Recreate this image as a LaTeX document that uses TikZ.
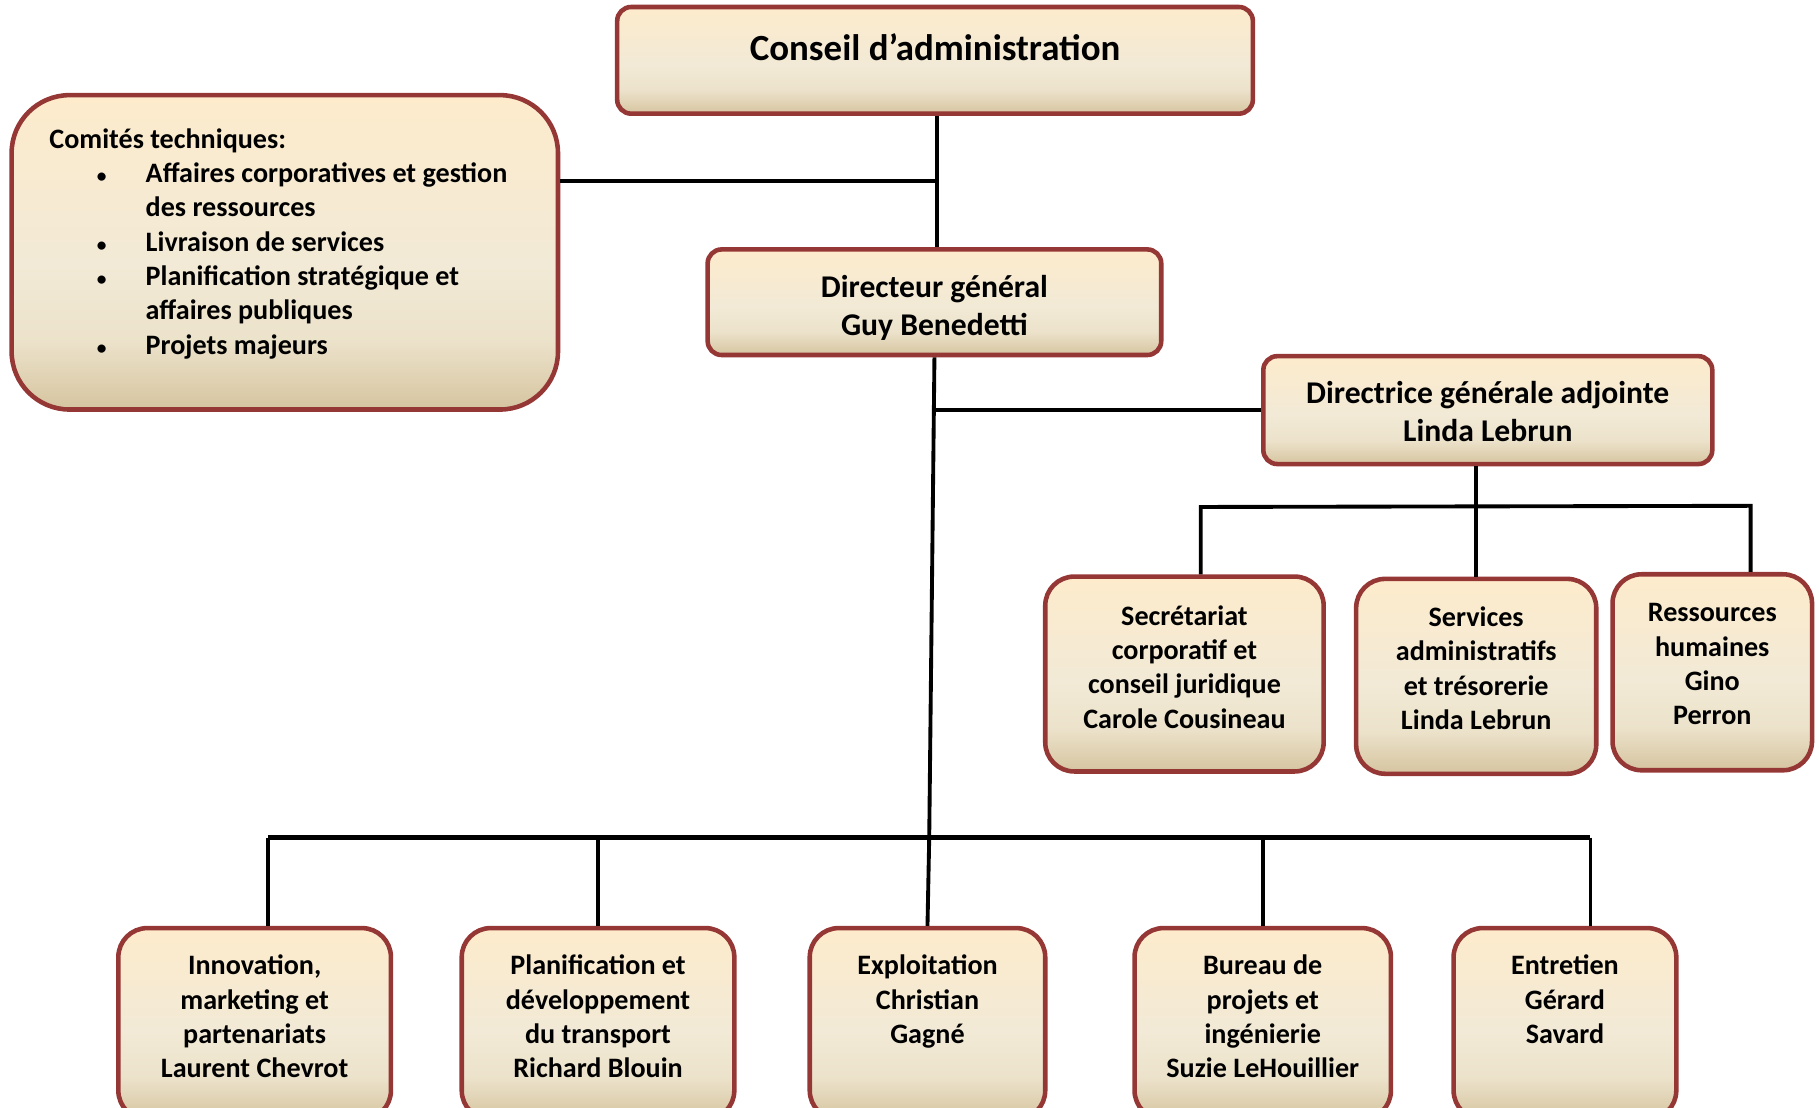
\documentclass[tikz,border=0pt]{standalone}
\usepackage{fontspec}
\setmainfont{Carlito}
\usepackage{tikz}
\usetikzlibrary{positioning}

\definecolor{boxedge}{HTML}{953735}
\definecolor{creamtop}{HTML}{FDEBCC}
\definecolor{creammid}{HTML}{F2EAD6}
\definecolor{tanbot}{HTML}{D5C49F}

\pgfdeclareverticalshading{boxfill}{100bp}{color(0bp)=(tanbot); color(25bp)=(tanbot); color(36bp)=(creammid!80!tanbot); color(48bp)=(creammid); color(75bp)=(creamtop); color(100bp)=(creamtop)}

\newcommand{\puce}{\makebox[9.63mm][l]{\hspace{4.75mm}{\fontsize{5.5}{5.5}\selectfont\textbullet}}}
\newcommand{\retrait}{\hspace*{9.63mm}}

\tikzset{
  unit/.style={draw=boxedge, line width=1.3pt, shade, shading=boxfill, rounded corners=2.9mm,
    align=center, inner sep=0pt, font=\fontsize{8}{9.77}\selectfont\bfseries},
  head/.style={unit, rounded corners=1.4mm, font=\fontsize{9}{10.9}\selectfont\bfseries},
  lowtext/.style={align=center, inner sep=0pt, font=\fontsize{8}{9.77}\selectfont\bfseries},
  headtext/.style={lowtext, font=\fontsize{9}{10.9}\selectfont\bfseries},
  link/.style={line width=1.1pt, black},
  bar/.style={line width=1.6pt, black}
}

\begin{document}
\begin{tikzpicture}[x=0.11601mm, y=-0.11601mm]
\clip (0,0) rectangle (1568,955);

% direction
\node[head, font=\fontsize{10.5}{12}\selectfont\bfseries, text depth=7.3pt,
  minimum width=63.57mm, minimum height=10.67mm] (conseil) at (806,52) {Conseil d’administration};
\node[unit, rounded corners=5.8mm, minimum width=54.64mm, minimum height=31.44mm] (comites) at (245.5,217.5) {};
\node[lowtext, align=left, below right=3.5mm and 3.94mm of comites.north west] (comites-t) {Comités techniques:\\
\puce Affaires corporatives et gestion\\
\retrait des ressources\\
\puce Livraison de services\\
\puce Planification stratégique et\\
\retrait affaires publiques\\
\puce Projets majeurs};
\node[head, minimum width=45.36mm, minimum height=10.56mm] (dg) at (805.5,260.5) {};
\node[headtext, below=2.73mm of dg.north] (dg-t) {Directeur général\\Guy Benedetti};
\node[head, minimum width=44.9mm, minimum height=10.79mm] (dga) at (1282.5,353.5) {};
\node[headtext, below=2.68mm of dga.north] (dga-t) {Directrice générale adjointe\\Linda Lebrun};

% services de la DGA
\node[unit, minimum width=27.84mm, minimum height=19.49mm] (secr) at (1021,581) {};
\node[unit, minimum width=24.01mm, minimum height=19.49mm] (svc) at (1272.5,583) {};
\node[unit, minimum width=19.95mm, minimum height=19.6mm] (rh) at (1476,579.5) {};
\node[lowtext, below=3.03mm of secr.north] (secr-t) {Secrétariat\\corporatif et\\conseil juridique\\Carole Cousineau};
\node[lowtext, below=2.95mm of svc.north] (svc-t) {Services\\administratifs\\et trésorerie\\Linda Lebrun};
\node[lowtext, below=3.1mm of rh.north] (rh-t) {Ressources\\humaines\\Gino\\Perron};

% directions
\node[unit, minimum width=27.26mm, minimum height=19.14mm] (inno) at (219.5,882.5) {};
\node[unit, minimum width=27.26mm, minimum height=19.14mm] (plan) at (515.5,882.5) {};
\node[unit, minimum width=23.55mm, minimum height=19.14mm] (expl) at (799.5,882.5) {};
\node[unit, minimum width=25.64mm, minimum height=19.14mm] (bur) at (1088.5,882.5) {};
\node[unit, minimum width=22.27mm, minimum height=19.14mm] (entr) at (1349,882.5) {};
\node[lowtext, below=2.85mm of inno.north] (inno-t) {Innovation,\\marketing et\\partenariats\\Laurent Chevrot};
\node[lowtext, below=2.85mm of plan.north] (plan-t) {Planification et\\développement\\du transport\\Richard Blouin};
\node[lowtext, below=2.85mm of expl.north] (expl-t) {Exploitation\\Christian\\Gagné};
\node[lowtext, below=2.85mm of bur.north] (bur-t) {Bureau de\\projets et\\ingénierie\\Suzie LeHouillier};
\node[lowtext, below=2.85mm of entr.north] (entr-t) {Entretien\\Gérard\\Savard};

\coordinate (cj) at (808,156);
\coordinate (sj) at (1035,437);
\coordinate (rj) at (1509,436);
\coordinate (bj) at (801,722);
\coordinate (bl) at (231,722);
\coordinate (br) at (1371,722);

\draw[link] (cj |- conseil.south) -- (cj |- dg.north);
\draw[link] (comites.east |- cj) -- (cj);
\draw[link] (dg.south) -- (bj) -- (expl.north);
\draw[link] (dga.west) -- (dga.west -| dg.south);
\draw[link] (svc.north |- dga.south) -- (svc.north);
\draw[link] (sj |- secr.north) -- (sj) -- (rj) -- (rj |- rh.north);
\draw[bar] (bl) -- (br);
\draw[link] (bl) -- (bl |- inno.north);
\draw[link] (plan.north |- bl) -- (plan.north);
\draw[link] (bur.north |- bl) -- (bur.north);
\draw[link] (br) -- (br |- entr.north);
\end{tikzpicture}
\end{document}
